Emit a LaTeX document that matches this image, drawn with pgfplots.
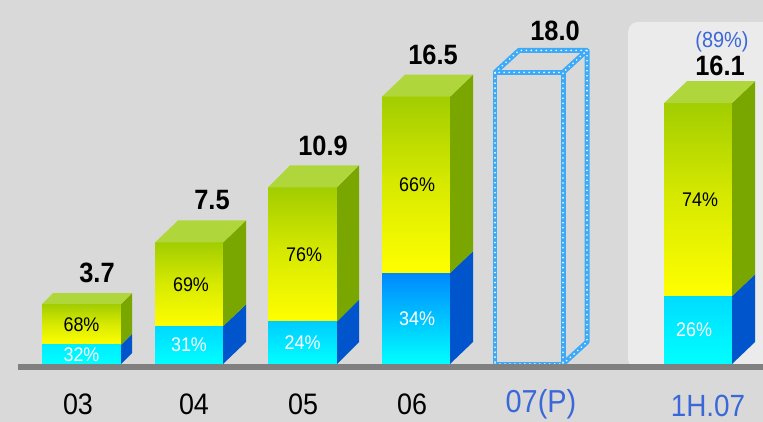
\documentclass[border=0pt]{standalone}
\usepackage{fontspec}
\setmainfont{Liberation Sans}
\usepackage{graphicx}
\usepackage{pgfplots}
\pgfplotsset{compat=1.18}
\definecolor{bg}{HTML}{D9D9D9}
\definecolor{panel}{HTML}{EBEBEB}
\definecolor{base}{HTML}{808080}
\definecolor{ytop}{HTML}{A2CD00}
\definecolor{ymid}{HTML}{D8EA00}
\definecolor{ybot}{HTML}{FFFF00}
\definecolor{yside}{HTML}{7AA600}
\definecolor{ytopface}{HTML}{AFD63A}
\definecolor{cbot}{HTML}{00FFFF}
\definecolor{cside}{HTML}{0055CC}
\definecolor{ctA}{HTML}{00ECFF}
\definecolor{ctB}{HTML}{00D8FF}
\definecolor{ctC}{HTML}{00CCFF}
\definecolor{ctD}{HTML}{0088FF}
\definecolor{ctE}{HTML}{00DCFF}
\definecolor{lblue}{HTML}{3DAAF8}
\definecolor{tblue}{HTML}{3A68D8}
\newcommand{\T}[2]{{\fontsize{#1}{#1}\selectfont\scalebox{1}[1.1]{#2}}}
\newcommand{\TB}[2]{{\fontsize{#1}{#1}\selectfont\bfseries\scalebox{1}[1.1]{#2}}}
\begin{document}
\begin{tikzpicture}
\begin{axis}[
  width=763bp, height=422bp, scale only axis,
  xmin=0, xmax=763, ymin=-3.5802, ymax=22.4691,
  hide axis, clip=true,
]
\fill[bg] (rel axis cs:0,0) rectangle (rel axis cs:1,1);
\fill[panel, rounded corners=10pt] (628,-0.3) rectangle (800,21.11);

% ---------- bar 03: total 3.7, lower 32% = 1.184
\addplot[draw=none, top color=ytop, bottom color=ybot, middle color=ymid] coordinates {(42,1.184) (121,1.184) (121,3.7) (42,3.7)} -- cycle;
\addplot[draw=none, top color=ctA, bottom color=cbot] coordinates {(42,0) (121,0) (121,1.184) (42,1.184)} -- cycle;
\addplot[draw=none, fill=cside] coordinates {(121,0) (132,0.679) (132,1.863) (121,1.184)} -- cycle;
\addplot[draw=none, fill=yside] coordinates {(121,1.184) (132,1.863) (132,4.379) (121,3.7)} -- cycle;
\addplot[draw=none, fill=ytopface] coordinates {(42,3.7) (121,3.7) (132,4.379) (53,4.379)} -- cycle;

% ---------- bar 04: total 7.5, lower 31% = 2.325
\addplot[draw=none, top color=ytop, bottom color=ybot, middle color=ymid] coordinates {(155,2.325) (223,2.325) (223,7.5) (155,7.5)} -- cycle;
\addplot[draw=none, top color=ctB, bottom color=cbot] coordinates {(155,0) (223,0) (223,2.325) (155,2.325)} -- cycle;
\addplot[draw=none, fill=cside] coordinates {(223,0) (246,1.358) (246,3.683) (223,2.325)} -- cycle;
\addplot[draw=none, fill=yside] coordinates {(223,2.325) (246,3.683) (246,8.858) (223,7.5)} -- cycle;
\addplot[draw=none, fill=ytopface] coordinates {(155,7.5) (223,7.5) (246,8.858) (178,8.858)} -- cycle;

% ---------- bar 05: total 10.9, lower 24% = 2.616
\addplot[draw=none, top color=ytop, bottom color=ybot, middle color=ymid] coordinates {(268,2.616) (337,2.616) (337,10.9) (268,10.9)} -- cycle;
\addplot[draw=none, top color=ctC, bottom color=cbot] coordinates {(268,0) (337,0) (337,2.616) (268,2.616)} -- cycle;
\addplot[draw=none, fill=cside] coordinates {(337,0) (359,1.358) (359,3.974) (337,2.616)} -- cycle;
\addplot[draw=none, fill=yside] coordinates {(337,2.616) (359,3.974) (359,12.258) (337,10.9)} -- cycle;
\addplot[draw=none, fill=ytopface] coordinates {(268,10.9) (337,10.9) (359,12.258) (290,12.258)} -- cycle;

% ---------- bar 06: total 16.5, lower 34% = 5.61
\addplot[draw=none, top color=ytop, bottom color=ybot, middle color=ymid] coordinates {(382,5.61) (450,5.61) (450,16.5) (382,16.5)} -- cycle;
\addplot[draw=none, top color=ctD, bottom color=cbot] coordinates {(382,0) (450,0) (450,5.61) (382,5.61)} -- cycle;
\addplot[draw=none, fill=cside] coordinates {(450,0) (473,1.358) (473,6.968) (450,5.61)} -- cycle;
\addplot[draw=none, fill=yside] coordinates {(450,5.61) (473,6.968) (473,17.858) (450,16.5)} -- cycle;
\addplot[draw=none, fill=ytopface] coordinates {(382,16.5) (450,16.5) (473,17.858) (405,17.858)} -- cycle;

% ---------- bar 07(P): total 18.0, outline only
\addplot[draw=lblue, line width=5pt, line join=round] coordinates {(495,0) (563,0) (563,18) (495,18)} -- cycle;
\addplot[draw=lblue, line width=5pt, line join=round] coordinates {(495,18) (519,19.358) (587,19.358) (563,18)};
\addplot[draw=lblue, line width=5pt, line join=round] coordinates {(563,0) (587,1.358) (587,19.358)};
\addplot[draw=white, line width=1.8pt, line cap=round, dash pattern=on 0pt off 5pt] coordinates {(495,0) (563,0) (563,18) (495,18)} -- cycle;
\addplot[draw=white, line width=1.8pt, line cap=round, dash pattern=on 0pt off 5pt] coordinates {(495,18) (519,19.358) (587,19.358) (563,18)};
\addplot[draw=white, line width=1.8pt, line cap=round, dash pattern=on 0pt off 5pt] coordinates {(563,0) (587,1.358) (587,19.358)};

% ---------- bar 1H.07: total 16.1, lower 26% = 4.186
\addplot[draw=none, top color=ytop, bottom color=ybot, middle color=ymid] coordinates {(664,4.186) (732,4.186) (732,16.1) (664,16.1)} -- cycle;
\addplot[draw=none, top color=ctE, bottom color=cbot] coordinates {(664,0) (732,0) (732,4.186) (664,4.186)} -- cycle;
\addplot[draw=none, fill=cside] coordinates {(732,0) (755,1.358) (755,5.544) (732,4.186)} -- cycle;
\addplot[draw=none, fill=yside] coordinates {(732,4.186) (755,5.544) (755,17.458) (732,16.1)} -- cycle;
\addplot[draw=none, fill=ytopface] coordinates {(664,16.1) (732,16.1) (755,17.458) (687,17.458)} -- cycle;

% baseline
\addplot[draw=base, line width=6pt] coordinates {(18,-0.185) (770,-0.185)};

% percentage labels
\node[inner sep=0, white] at (81.5,0.592) {\T{18}{32\%}};
\node[inner sep=0] at (81.5,2.442) {\T{18}{68\%}};
\node[inner sep=0, white] at (189,1.1625) {\T{18}{31\%}};
\node[inner sep=0] at (191,4.9125) {\T{18}{69\%}};
\node[inner sep=0, white] at (302.5,1.308) {\T{18}{24\%}};
\node[inner sep=0] at (304,6.758) {\T{18}{76\%}};
\node[inner sep=0, white] at (417,2.805) {\T{18}{34\%}};
\node[inner sep=0] at (417,11.055) {\T{18}{66\%}};
\node[inner sep=0, white] at (694,2.093) {\T{18}{26\%}};
\node[inner sep=0] at (700,10.143) {\T{18}{74\%}};

% value labels
\node[inner sep=0] at (97,5.614) {\TB{25.5}{3.7}};
\node[inner sep=0] at (212,10.093) {\TB{25.5}{7.5}};
\node[inner sep=0] at (323,13.493) {\TB{25.5}{10.9}};
\node[inner sep=0] at (433,19.093) {\TB{25.5}{16.5}};
\node[inner sep=0] at (555,20.593) {\TB{25.5}{18.0}};
\node[inner sep=0] at (720,18.4) {\TB{25.5}{16.1}};
\node[inner sep=0, tblue] at (722,19.88) {\T{20}{(89\%)}};

% category labels
\node[inner sep=0] at (78,-2.469) {\T{27}{03}};
\node[inner sep=0] at (194,-2.469) {\T{27}{04}};
\node[inner sep=0] at (303,-2.469) {\T{27}{05}};
\node[inner sep=0] at (412,-2.469) {\T{27}{06}};
\node[inner sep=0, tblue] at (541,-2.469) {\T{29}{07(P)}};
\node[inner sep=0, tblue] at (708,-2.58) {\T{28}{1H.07}};
\end{axis}
\end{tikzpicture}
\end{document}
